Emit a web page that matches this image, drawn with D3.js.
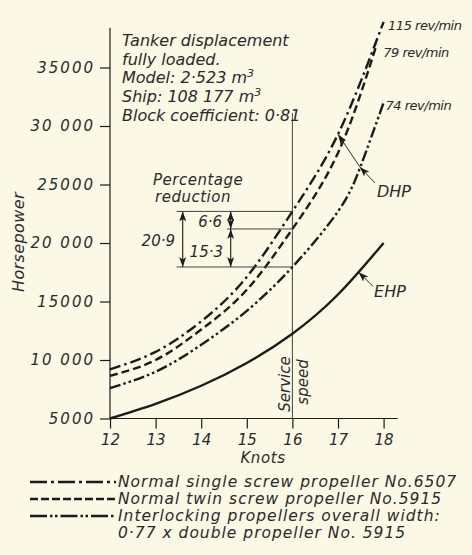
<!DOCTYPE html>
<html>
<head>
<meta charset="utf-8">
<script src="https://cdn.jsdelivr.net/npm/d3@7"></script>
<style>
  body { margin: 0; background: #fbf8e5; }
  svg { display: block; }
  text { font-family: "DejaVu Sans", sans-serif; font-style: oblique; fill: #2a2a2a; }
</style>
</head>
<body>
<svg id="chart" width="472" height="555"></svg>
<script>
// Speed (knots) and horsepower readings for each propeller arrangement
const knots = [12, 13, 14, 15, 16, 17, 18];
const singleScrew = [9200, 10700, 13300, 17100, 22700, 29300, 38900];      // 115 rev/min
const twinKnots = [12, 13, 14, 15, 16, 17, 17.85];
const twinScrew = [8650, 10000, 12600, 16000, 21200, 27700, 37000];         // 79 rev/min
const interKnots = [12, 13, 14, 15, 16, 17, 17.5, 18];
const interlocking = [7600, 9000, 11300, 14200, 17950, 22700, 26600, 32000]; // 74 rev/min
const ehp = [5000, 6250, 7800, 9750, 12250, 15600, 20000];

const xTicks = [12, 13, 14, 15, 16, 17, 18];
const yTicks = [5000, 10000, 15000, 20000, 25000, 30000, 35000];
const yTickLabels = ["5000", "10 000", "15000", "20 000", "25000", "30 000", "35000"];
const serviceSpeed = 16;
const revLabels = ["115 rev/min", "79 rev/min", "74 rev/min"];
const legendLabels = [
  "Normal single screw propeller No.6507",
  "Normal twin screw propeller No.5915",
  "Interlocking propellers overall width:",
  "0·77 x double propeller No. 5915"
];

const svg = d3.select("#chart");
const ink = "#1b1b1b";

const x = d3.scaleLinear().domain([12, 18]).range([110, 383.6]);
const y = d3.scaleLinear().domain([5000, 35000]).range([418.5, 67.5]);

// arrowhead marker
const defs = svg.append("defs");
defs.append("marker")
  .attr("id", "arrow").attr("markerUnits", "userSpaceOnUse")
  .attr("markerWidth", 11).attr("markerHeight", 7)
  .attr("refX", 10).attr("refY", 3.5).attr("orient", "auto-start-reverse")
  .append("path").attr("d", "M0,0 L10,3.5 L0,7 L2.5,3.5 Z").attr("fill", ink);

// axes
const xAxis = d3.axisBottom(x).tickValues(xTicks).tickSize(10).tickPadding(6).tickFormat(d3.format("d"));
const gx = svg.append("g").attr("transform", `translate(0,${y(5000)})`).call(xAxis);
const yAxis = d3.axisLeft(y).tickValues(yTicks).tickSize(10).tickPadding(5)
  .tickFormat((d, i) => yTickLabels[i]);
const gy = svg.append("g").attr("transform", `translate(${x(12)},0)`).call(yAxis);
[gx, gy].forEach(g => {
  g.select(".domain").remove();
  g.selectAll("line").attr("stroke", ink).attr("stroke-width", 1.2);
  g.selectAll("text").attr("font-size", 15).attr("fill", "#2a2a2a")
    .style("font-family", "DejaVu Sans").style("font-style", "oblique");
});
gy.selectAll("text").attr("letter-spacing", 2);

svg.append("line").attr("x1", x(12)).attr("x2", x(18) + 14)
  .attr("y1", y(5000)).attr("y2", y(5000)).attr("stroke", ink).attr("stroke-width", 1.2);
svg.append("line").attr("x1", x(12)).attr("x2", x(12))
  .attr("y1", y(5000)).attr("y2", y(38400)).attr("stroke", ink).attr("stroke-width", 1.2);

// service speed line
svg.append("line").attr("x1", x(serviceSpeed)).attr("x2", x(serviceSpeed))
  .attr("y1", y(31100)).attr("y2", y(5000)).attr("stroke", "#444").attr("stroke-width", 1);
svg.append("text").attr("transform", `translate(${x(serviceSpeed) - 2.5},384) rotate(-90)`)
  .attr("text-anchor", "middle").attr("font-size", 15).text("Service");
svg.append("text").attr("transform", `translate(${x(serviceSpeed) + 16},382) rotate(-90)`)
  .attr("text-anchor", "middle").attr("font-size", 15).text("speed");

// curves
const line = d3.line().x(d => x(d[0])).y(d => y(d[1])).curve(d3.curveNatural);
const series = [
  { k: knots, v: singleScrew, dash: "11,4,2.5,4" },
  { k: twinKnots, v: twinScrew, dash: "8,4" },
  { k: interKnots, v: interlocking, dash: "11,3,2.5,3,2.5,3" },
  { k: knots, v: ehp, dash: null }
];
series.forEach(s => {
  svg.append("path").datum(s.k.map((k, i) => [k, s.v[i]]))
    .attr("d", line).attr("fill", "none").attr("stroke", ink)
    .attr("stroke-width", 2.4).attr("stroke-dasharray", s.dash);
});

// rev/min labels at curve ends
const revOffsets = [[4.5, 8.6], [6.5, 12.6], [2, 7.5]];
series.slice(0, 3).forEach((s, i) => {
  const n = s.k.length - 1;
  svg.append("text").attr("x", x(s.k[n]) + revOffsets[i][0]).attr("y", y(s.v[n]) + revOffsets[i][1])
    .attr("font-size", 13).attr("letter-spacing", -0.5).text(revLabels[i]);
});

// DHP pointer (touches the 115 rev/min and 74 rev/min curves)
const dhpTail = [17.81, 25130], dhpMid = [17.48, 26500], dhpTip = [17, 29300];
svg.append("line").attr("x1", x(dhpTail[0])).attr("y1", y(dhpTail[1]))
  .attr("x2", x(dhpMid[0])).attr("y2", y(dhpMid[1]))
  .attr("stroke", "#333").attr("stroke-width", 1).attr("marker-end", "url(#arrow)");
svg.append("line").attr("x1", x(dhpMid[0])).attr("y1", y(dhpMid[1]))
  .attr("x2", x(dhpTip[0])).attr("y2", y(dhpTip[1]))
  .attr("stroke", "#333").attr("stroke-width", 1).attr("marker-end", "url(#arrow)");
svg.append("text").attr("x", x(dhpTail[0]) + 2).attr("y", y(dhpTail[1]) + 14)
  .attr("font-size", 16).text("DHP");

// EHP pointer
const ehpTail = [17.77, 16300], ehpTip = [17.45, 17500];
svg.append("line").attr("x1", x(ehpTail[0])).attr("y1", y(ehpTail[1]))
  .attr("x2", x(ehpTip[0])).attr("y2", y(ehpTip[1]))
  .attr("stroke", "#333").attr("stroke-width", 1).attr("marker-end", "url(#arrow)");
svg.append("text").attr("x", x(ehpTail[0]) + 1).attr("y", y(ehpTail[1]) + 11)
  .attr("font-size", 16).text("EHP");

// percentage reduction at service speed
const at = (ks, vs) => vs[ks.indexOf(serviceSpeed)];
const hpSingle = at(knots, singleScrew), hpTwin = at(twinKnots, twinScrew), hpInter = at(interKnots, interlocking);
const pct = (a, b) => ((a - b) / a * 100).toFixed(1).replace(".", "·");
const xLeft = 176.7, xInner = 230.7, xOuter = 182.7;
[[xLeft, hpSingle], [227, hpTwin], [xLeft, hpInter]].forEach(([x0, v]) => {
  svg.append("line").attr("x1", x0).attr("x2", x(serviceSpeed)).attr("y1", y(v)).attr("y2", y(v))
    .attr("stroke", "#444").attr("stroke-width", 1);
});
const dimArrow = (xx, a, b) => svg.append("line").attr("x1", xx).attr("x2", xx)
  .attr("y1", y(a)).attr("y2", y(b)).attr("stroke", ink).attr("stroke-width", 1.1)
  .attr("marker-start", "url(#arrow)").attr("marker-end", "url(#arrow)");
dimArrow(xOuter, hpSingle, hpInter);
dimArrow(xInner, hpSingle, hpTwin);
dimArrow(xInner, hpTwin, hpInter);
svg.append("text").attr("x", 175).attr("y", 246).attr("text-anchor", "end").attr("font-size", 15)
  .text(pct(hpSingle, hpInter));
svg.append("text").attr("x", 222).attr("y", 226.7).attr("text-anchor", "end").attr("font-size", 15)
  .text(pct(hpSingle, hpTwin));
svg.append("text").attr("x", 223).attr("y", 256.7).attr("text-anchor", "end").attr("font-size", 15)
  .text(pct(hpTwin, hpInter));
svg.append("text").attr("x", 153).attr("y", 185).attr("font-size", 15).attr("letter-spacing", 0.5)
  .text("Percentage");
svg.append("text").attr("x", 155).attr("y", 202).attr("font-size", 15).attr("letter-spacing", 0.5)
  .text("reduction");

// particulars of the ship
const noteRows = [
  [["Tanker displacement"]],
  [["fully loaded."]],
  [["Model: 2·523 m"], ["3", true]],
  [["Ship: 108 177 m"], ["3", true]],
  [["Block coefficient: 0·81"]]
];
noteRows.forEach((row, i) => {
  const t = svg.append("text").attr("x", 122).attr("y", 46 + i * 18.7).attr("font-size", 16);
  row.forEach(([s, sup]) => {
    t.append("tspan").attr("dy", sup ? -6 : null).attr("font-size", sup ? 11 : null).text(s);
  });
});

// axis titles
svg.append("text").attr("transform", "translate(24,242) rotate(-90)").attr("text-anchor", "middle")
  .attr("font-size", 16).attr("letter-spacing", 0.4).text("Horsepower");
svg.append("text").attr("x", 263).attr("y", 463).attr("text-anchor", "middle")
  .attr("font-size", 15).attr("letter-spacing", 0.6).text("Knots");

// legend
const legendDash = ["17,4,3,4", "8,3", "17,3,2.5,2.5,2.5,3"];
const legendY = [487, 504, 521, 538];
legendLabels.forEach((s, i) => {
  if (i < 3) {
    svg.append("line").attr("x1", 30).attr("x2", 116).attr("y1", legendY[i] - 5).attr("y2", legendY[i] - 5)
      .attr("stroke", ink).attr("stroke-width", 2.3).attr("stroke-dasharray", legendDash[i]);
  }
  svg.append("text").attr("x", 118).attr("y", legendY[i]).attr("font-size", 15.5)
    .attr("letter-spacing", 1).text(s);
});
</script>
</body>
</html>
